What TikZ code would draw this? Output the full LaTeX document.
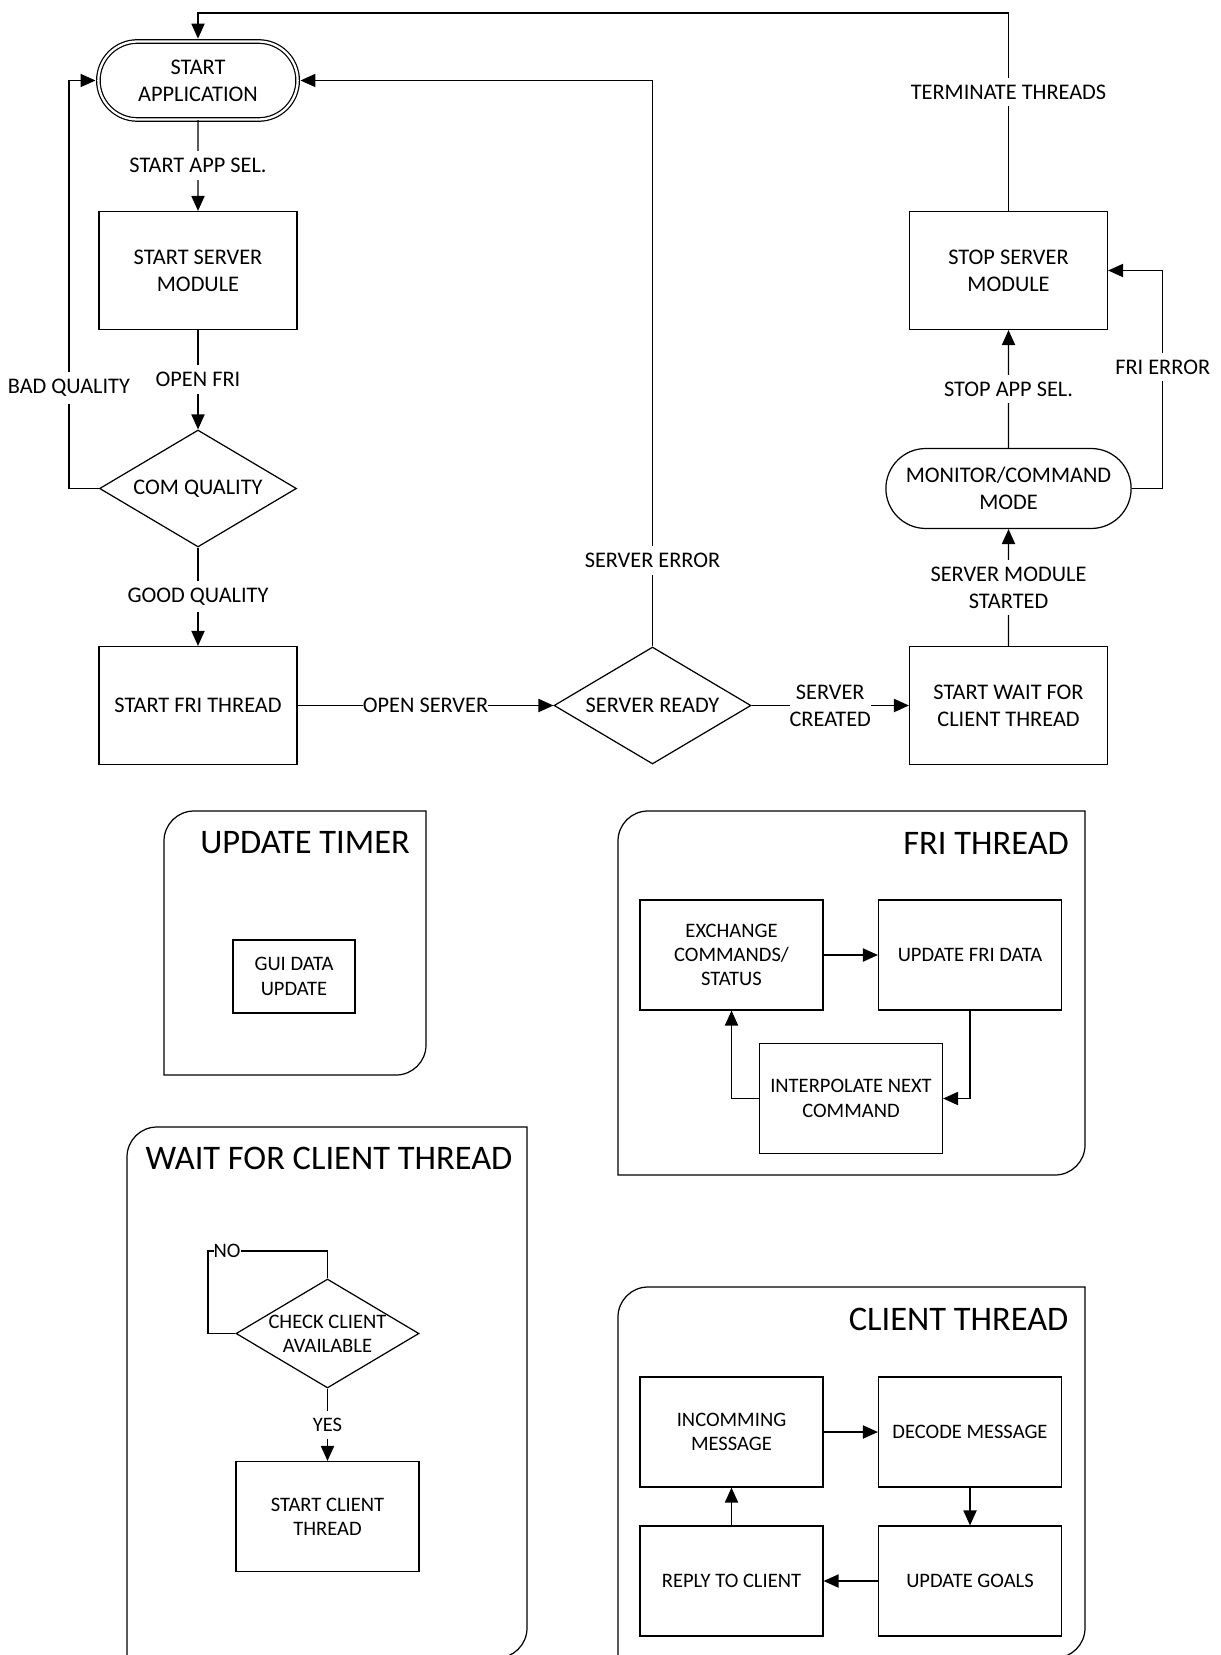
\documentclass[tikz,border=0pt]{standalone}
\usepackage{fontspec}
\setmainfont{Carlito}
\usetikzlibrary{arrows.meta,shapes.geometric,shapes.misc}

% Tamaños de letra
\newcommand{\txtgrande}{\fontsize{12.7}{15.5}\selectfont}
\newcommand{\txtchico}{\fontsize{11.7}{13.8}\selectfont}
\newcommand{\txttitulo}{\fontsize{19.6}{22}\selectfont}

% Marco con esquinas redondeadas (arriba izq. y abajo der.)
% #1 izq, #2 der, #3 arriba, #4 abajo
\newcommand{\marco}[4]{%
  \draw (#1,#4) -- (#1,#3+30) arc[start angle=180,end angle=90,radius=0.6cm]
    -- (#2,#3) -- (#2,#4-30) arc[start angle=0,end angle=-90,radius=0.6cm] -- cycle;}

\tikzset{
  caja/.style={draw, rectangle, align=center, font=\txtgrande,
    minimum width=3.96cm, minimum height=2.36cm},
  cajachica/.style={caja, font=\txtchico, minimum width=3.66cm, minimum height=2.2cm},
  rombo/.style={draw, diamond, aspect=1.68, inner sep=0pt, align=center,
    font=\txtgrande, minimum width=3.94cm, minimum height=2.34cm},
  terminal/.style={draw, rounded rectangle, align=center, font=\txtgrande,
    minimum width=5.14cm, minimum height=1.6cm},
  etiq/.style={fill=white, inner xsep=0pt, inner ysep=4pt, align=center, font=\txtgrande},
  etiqchica/.style={etiq, font=\txtchico},
  titulo/.style={anchor=east, inner sep=0pt, font=\txttitulo},
}

\begin{document}
\begin{tikzpicture}[x=0.02cm, y=-0.02cm, line width=0.7pt,
    >={Triangle[length=8.5pt,width=7.5pt]}]
  \useasboundingbox (0,0) rectangle (1220,1655);

  % Flujo principal
  \node[terminal, double, double distance=1.3pt, minimum width=4.22cm,
    minimum height=1.56cm] (inicio) at (198,80.5) {START\\APPLICATION};
  \node[caja] (srvmod) at (198,270.5) {START SERVER\\MODULE};
  \node[rombo] (calidad) at (198,488.5) {COM QUALITY};
  \node[caja] (frith) at (198,705.5) {START FRI THREAD};
  \node[rombo] (listo) at (652.5,705.5) {SERVER READY};
  \node[caja] (espera) at (1008.5,705.5) {START WAIT FOR\\CLIENT THREAD};
  \node[terminal] (monitor) at (1008.5,488.5) {MONITOR/COMMAND\\MODE};
  \node[caja] (parar) at (1008.5,270.5) {STOP SERVER\\MODULE};

  % Conexiones
  \draw[->] (inicio) -- node[etiq] (lAppSel) {START APP SEL.} (srvmod);
  \draw[->] (srvmod) -- node[etiq] (lFri) {OPEN FRI} (calidad);
  \draw[->] (calidad) -- node[etiq] (lBuena) {GOOD QUALITY} (frith);
  \draw[->, shorten >=1.3pt] (calidad.west) -- ++(-30,0)
    |- node[etiq, pos=0.123] (lMala) {BAD QUALITY} (inicio.west);
  \draw[->] (frith) -- node[etiq] (lAbrir) {OPEN SERVER} (listo);
  \draw[->, shorten >=1.3pt] (listo.north)
    |- node[etiq, pos=0.076] (lError) {SERVER ERROR} (inicio.east);
  \draw[->] (listo) -- node[etiq] (lCreado) {SERVER\\CREATED} (espera);
  \draw[->] (espera) -- node[etiq] (lIniciado) {SERVER MODULE\\STARTED} (monitor);
  \draw[->] (monitor) -- node[etiq] (lStop) {STOP APP SEL.} (parar);
  \draw[->] (monitor.east) -- ++(31,0)
    |- node[etiq, pos=0.279] (lFriErr) {FRI ERROR} (parar.east);
  \draw[->, shorten >=1.3pt] (parar.north)
    -- node[etiq, pos=0.6] (lTerm) {TERMINATE THREADS} ++(0,-198) -| (inicio.north);

  % Timer
  \marco{164}{426}{811}{1075}
  \node[titulo] (tTimer) at (410.5,843) {UPDATE TIMER};
  \node[cajachica, minimum width=2.44cm, minimum height=1.46cm] (gui) at (294,976.5)
    {GUI DATA\\UPDATE};

  % Hilo FRI
  \marco{618}{1085}{811}{1175}
  \node[titulo] (tFri) at (1069.5,843) {FRI THREAD};
  \node[cajachica] (exch) at (731.5,955) {EXCHANGE\\COMMANDS/\\STATUS};
  \node[cajachica] (frid) at (970,955) {UPDATE FRI DATA};
  \node[cajachica] (interp) at (851,1098.5) {INTERPOLATE NEXT\\COMMAND};
  \draw[->] (exch) -- (frid);
  \draw[->] (frid.south) |- (interp.east);
  \draw[->] (interp.west) -| (exch.south);

  % Hilo de espera del cliente
  \marco{127}{527}{1127}{1658}
  \node[titulo] (tEspera) at (513,1158) {WAIT FOR CLIENT THREAD};
  \node[rombo, font=\txtchico, inner sep=-4pt, minimum width=3.66cm,
    minimum height=2.18cm] (check) at (327.5,1333.5) {CHECK CLIENT\\AVAILABLE};
  \node[cajachica] (cliente) at (327.5,1516.5) {START CLIENT\\THREAD};
  \coordinate (vuelta) at (208,1251);
  \draw (check.north) |- node[etiqchica, pos=0.92] (lNo) {NO} (vuelta) |- (check.west);
  \draw[->] (check) -- node[etiqchica] (lSi) {YES} (cliente);

  % Hilo del cliente
  \marco{618}{1085}{1287}{1658}
  \node[titulo] (tCliente) at (1069,1319) {CLIENT THREAD};
  \node[cajachica] (entrada) at (731.5,1432) {INCOMMING\\MESSAGE};
  \node[cajachica] (decod) at (970,1432) {DECODE MESSAGE};
  \node[cajachica] (metas) at (970,1581) {UPDATE GOALS};
  \node[cajachica] (respuesta) at (731.5,1581) {REPLY TO CLIENT};
  \draw[->] (entrada) -- (decod);
  \draw[->] (decod) -- (metas);
  \draw[->] (metas) -- (respuesta);
  \draw[->] (respuesta) -- (entrada);
\end{tikzpicture}
\end{document}
